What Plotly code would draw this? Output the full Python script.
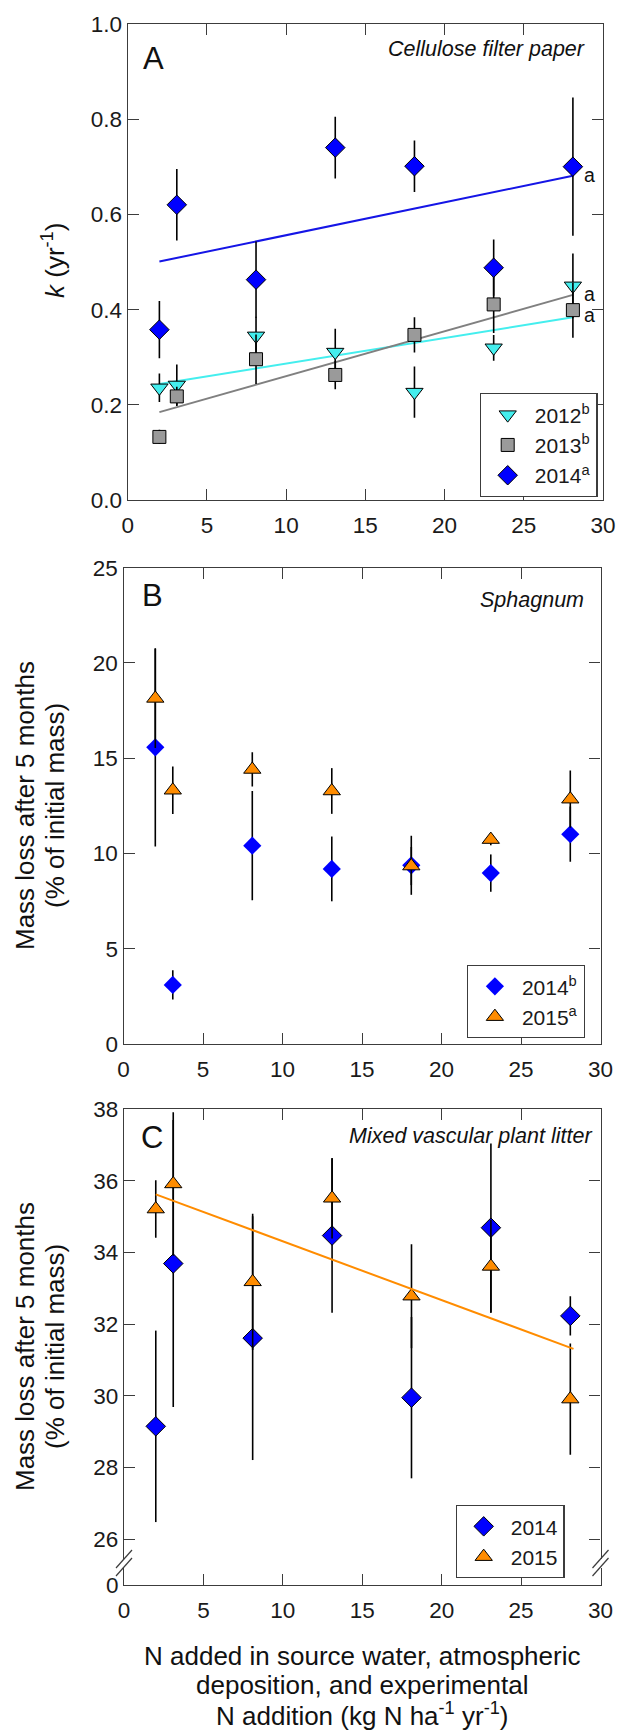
import plotly.graph_objects as go

# ---------------- data ----------------
N_X = [2.0, 3.1, 8.1, 13.1, 18.1, 23.1, 28.1]

# Panel A: decomposition rate k (yr-1), cellulose filter paper
k_2012 = [0.236, 0.242, 0.345, 0.311, 0.227, 0.320, 0.450]
k_2012_err = [0.030, 0.043, 0.040, 0.049, 0.054, 0.027, 0.068]
k_2013 = [0.133, 0.218, 0.296, 0.263, 0.347, 0.411, 0.399]
k_2013_err = [0.015, 0.020, 0.052, 0.030, 0.037, 0.060, 0.058]
k_2014 = [0.358, 0.620, 0.463, 0.740, 0.701, 0.488, 0.700]
k_2014_err = [0.060, 0.075, 0.080, 0.065, 0.054, 0.059, 0.145]

fit_x_A = [2.0, 28.1]
fit_2012 = [0.244, 0.384]
fit_2013 = [0.185, 0.431]
fit_2014 = [0.501, 0.681]

# Panel B: Sphagnum mass loss (%)
sph_2014 = [15.57, 3.10, 10.41, 9.19, 9.38, 8.97, 11.01]
sph_2014_err = [5.20, 0.77, 2.87, 1.70, 1.55, 0.98, 1.45]
sph_2015 = [18.14, 13.32, 14.41, 13.28, 9.34, 10.73, 12.85]
sph_2015_err = [2.60, 1.25, 0.90, 1.20, 1.00, 0.30, 1.50]

# Panel C: mixed vascular plant litter mass loss (%)
vas_2014 = [29.15, 33.69, 31.61, 34.47, 29.95, 34.69, 32.23]
vas_2014_err = [2.67, 4.00, 3.40, 2.15, 2.25, 2.35, 0.55]
vas_2015 = [35.21, 35.91, 33.18, 35.51, 32.78, 33.61, 29.91]
vas_2015_err = [0.80, 2.00, 1.90, 1.12, 1.45, 1.30, 1.55]

fit_x_C = [2.0, 28.3]
fit_2015_C = [35.62, 31.31]

x_ticks = [0, 5, 10, 15, 20, 25, 30]
yA_ticks = [0.0, 0.2, 0.4, 0.6, 0.8, 1.0]
yB_ticks = [0, 5, 10, 15, 20, 25]
yC_ticks = [24.725, 26, 28, 30, 32, 34, 36, 38]
yC_ticktext = ["0", "26", "28", "30", "32", "34", "36", "38"]

# ---------------- styling ----------------
W, H = 617, 1730
FONT = "Liberation Sans, Arial, sans-serif"
AX = "#3c3c3c"
BLUE = "#0000FF"
CYAN = "#44EEEE"
GRAY = "#9a9a9a"
ORANGE = "#FF8C00"


def px(p):
    return p / W


def py(p):
    return 1 - p / H


fig = go.Figure()


def err(arr):
    return dict(type="data", array=arr, visible=True, color="black",
                thickness=1.6, width=0)


# Panel A
fig.add_trace(go.Scatter(x=fit_x_A, y=fit_2012, mode="lines", line=dict(color=CYAN, width=2),
                         showlegend=False, xaxis="x", yaxis="y", hoverinfo="skip"))
fig.add_trace(go.Scatter(x=fit_x_A, y=fit_2013, mode="lines", line=dict(color="#808080", width=2),
                         showlegend=False, xaxis="x", yaxis="y", hoverinfo="skip"))
fig.add_trace(go.Scatter(x=fit_x_A, y=fit_2014, mode="lines", line=dict(color="#1515E6", width=2),
                         showlegend=False, xaxis="x", yaxis="y", hoverinfo="skip"))
fig.add_trace(go.Scatter(x=N_X, y=k_2012, error_y=err(k_2012_err), mode="markers",
                         marker=dict(symbol="triangle-down", size=15, color=CYAN,
                                     line=dict(color="black", width=1)),
                         name="2012<sup>b</sup>", xaxis="x", yaxis="y", legend="legend"))
fig.add_trace(go.Scatter(x=N_X, y=k_2013, error_y=err(k_2013_err), mode="markers",
                         marker=dict(symbol="square", size=13, color=GRAY,
                                     line=dict(color="black", width=1)),
                         name="2013<sup>b</sup>", xaxis="x", yaxis="y", legend="legend"))
fig.add_trace(go.Scatter(x=N_X, y=k_2014, error_y=err(k_2014_err), mode="markers",
                         marker=dict(symbol="diamond", size=15, color=BLUE,
                                     line=dict(color="black", width=1)),
                         name="2014<sup>a</sup>", xaxis="x", yaxis="y", legend="legend"))

# Panel B
fig.add_trace(go.Scatter(x=N_X, y=sph_2014, error_y=err(sph_2014_err), mode="markers",
                         marker=dict(symbol="diamond", size=14, color=BLUE,
                                     line=dict(color=BLUE, width=0)),
                         name="2014<sup>b</sup>", xaxis="x2", yaxis="y2", legend="legend2"))
fig.add_trace(go.Scatter(x=N_X, y=sph_2015, error_y=err(sph_2015_err), mode="markers",
                         marker=dict(symbol="triangle-up", size=15, color=ORANGE,
                                     line=dict(color="black", width=1)),
                         name="2015<sup>a</sup>", xaxis="x2", yaxis="y2", legend="legend2"))

# Panel C
fig.add_trace(go.Scatter(x=N_X, y=vas_2014, error_y=err(vas_2014_err), mode="markers",
                         marker=dict(symbol="diamond", size=15, color=BLUE,
                                     line=dict(color="black", width=1)),
                         name="2014", xaxis="x3", yaxis="y3", legend="legend3"))
fig.add_trace(go.Scatter(x=N_X, y=vas_2015, error_y=err(vas_2015_err), mode="markers",
                         marker=dict(symbol="triangle-up", size=15, color=ORANGE,
                                     line=dict(color="black", width=1)),
                         name="2015", xaxis="x3", yaxis="y3", legend="legend3"))
fig.add_trace(go.Scatter(x=fit_x_C, y=fit_2015_C, mode="lines", line=dict(color=ORANGE, width=2),
                         showlegend=False, xaxis="x3", yaxis="y3", hoverinfo="skip"))

common = dict(showline=True, linecolor=AX, linewidth=1.2, mirror="ticks", ticks="inside",
              ticklen=11, tickwidth=1.2, tickcolor=AX, showgrid=False, zeroline=False,
              automargin=False,
              tickfont=dict(family=FONT, size=22.5, color="#1a1a1a"))

xcommon = dict(common, range=[0, 30], tickvals=x_ticks, ticklabelstandoff=5)

layout = dict(
    width=W, height=H, autosize=False,
    margin=dict(l=0, r=0, t=0, b=0),
    paper_bgcolor="white", plot_bgcolor="white",
    font=dict(family=FONT, size=21, color="#1a1a1a"),
    xaxis=dict(xcommon, domain=[px(127.7), px(603)], anchor="y"),
    yaxis=dict(common, domain=[py(500.3), py(23.7)], range=[0, 1], tickvals=yA_ticks,
               tickformat=".1f", anchor="x"),
    xaxis2=dict(xcommon, domain=[px(123.5), px(600.5)], anchor="y2"),
    yaxis2=dict(common, domain=[py(1044), py(567.7)], range=[0, 25], tickvals=yB_ticks, anchor="x2"),
    xaxis3=dict(xcommon, domain=[px(124), px(600.5)], anchor="y3"),
    yaxis3=dict(common, domain=[py(1585), py(1109)], range=[24.725, 38], tickvals=yC_ticks,
                ticktext=yC_ticktext, anchor="x3"),
)

leg_common = dict(bgcolor="white", bordercolor=AX, borderwidth=1.2, xanchor="left", yanchor="top",
                  font=dict(family=FONT, size=21, color="#1a1a1a"), tracegroupgap=0, itemwidth=44)
layout["legend"] = dict(leg_common, x=px(479.5), y=py(393.3))
layout["legend2"] = dict(leg_common, x=px(466.7), y=py(965))
layout["legend3"] = dict(leg_common, x=px(455.5), y=py(1505))

fig.update_layout(**layout)

ann = []
# panel letters
for letter, cx, cy in [("A", 153, 58), ("B", 152.5, 595.5), ("C", 152, 1137)]:
    ann.append(dict(text=letter, x=px(cx), y=py(cy), xref="paper", yref="paper", showarrow=False,
                    xanchor="center", yanchor="middle", font=dict(family=FONT, size=31, color="#111")))
# italic titles
for t, rx, cy in [("Cellulose filter paper", 587, 49), ("Sphagnum", 586, 600),
                  ("Mixed vascular plant litter", 594, 1136)]:
    ann.append(dict(text="<i>" + t + "</i>", x=px(rx), y=py(cy), xref="paper", yref="paper",
                    showarrow=False, xanchor="right", yanchor="middle",
                    font=dict(family=FONT, size=21.5, color="#111")))
# significance letters
for ay in [0.683, 0.433, 0.389]:
    ann.append(dict(text="a", x=29.15, y=ay, xref="x", yref="y", showarrow=False,
                    xanchor="center", yanchor="middle", borderpad=0,
                    font=dict(family=FONT, size=19.5, color="#111")))
# y titles
ann.append(dict(text="<i>k</i> (yr<sup>-1</sup>)", x=px(53), y=py(261), xref="paper", yref="paper",
                showarrow=False, textangle=-90, xanchor="center", yanchor="middle",
                font=dict(family=FONT, size=26, color="#111")))
for cy in [806, 1347]:
    ann.append(dict(text="Mass loss after 5 months", x=px(25), y=py(cy), xref="paper", yref="paper",
                    showarrow=False, textangle=-90, xanchor="center", yanchor="middle",
                    font=dict(family=FONT, size=26, color="#111")))
    ann.append(dict(text="(% of initial mass)", x=px(55), y=py(cy), xref="paper", yref="paper",
                    showarrow=False, textangle=-90, xanchor="center", yanchor="middle",
                    font=dict(family=FONT, size=26, color="#111")))
# x title
for t, cy in [("N added in source water, atmospheric", 1656),
              ("deposition, and experimental", 1685),
              ("N addition (kg N ha<sup>-1</sup> yr<sup>-1</sup>)", 1714)]:
    ann.append(dict(text=t, x=px(362), y=py(cy), xref="paper", yref="paper", showarrow=False,
                    xanchor="center", yanchor="middle", font=dict(family=FONT, size=26, color="#111")))
fig.update_layout(annotations=ann)

# axis break marks on panel C
shapes = []
for ax_x in [124, 600.5]:
    shapes.append(dict(type="rect", xref="paper", yref="paper", x0=px(ax_x - 3), x1=px(ax_x + 3),
                       y0=py(1568), y1=py(1559), fillcolor="white", line=dict(width=0), layer="above"))
    for off in [0, 8]:
        shapes.append(dict(type="line", xref="paper", yref="paper",
                           x0=px(ax_x - 8), y0=py(1568 + off), x1=px(ax_x + 8), y1=py(1550 + off),
                           line=dict(color=AX, width=1.2), layer="above"))
fig.update_layout(shapes=shapes)

fig.write_html("out.html")
